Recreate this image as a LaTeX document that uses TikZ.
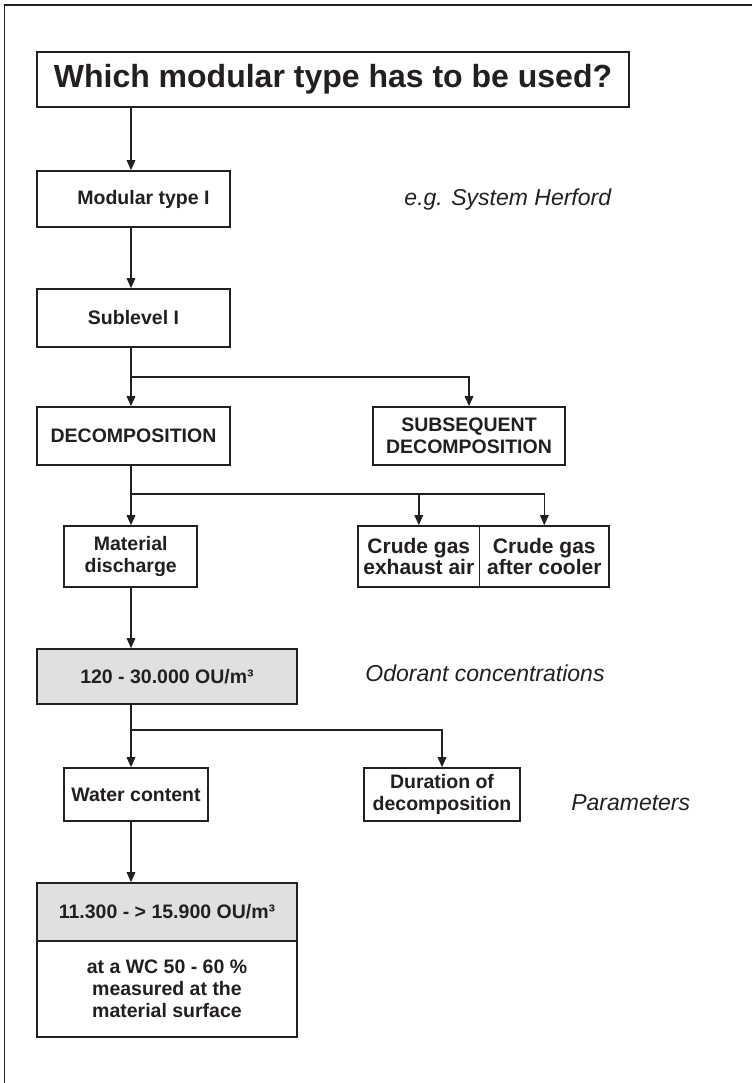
\documentclass[tikz,border=0pt]{standalone}
\usepackage{fontspec}
\setmainfont{Liberation Sans}
\usetikzlibrary{arrows.meta}
\definecolor{ink}{HTML}{231F20}
\definecolor{boxgray}{HTML}{E0E0E0}
\tikzset{
  box/.style={draw=ink, line width=1.6pt, fill=white, inner sep=0pt, align=center,
    font=\bfseries\fontsize{19.5}{22}\selectfont, text=ink},
  graybox/.style={box, fill=boxgray},
  crudebox/.style={box, font=\bfseries\fontsize{21}{21.5}\selectfont},
  note/.style={font=\itshape\fontsize{23}{26}\selectfont, text=ink, inner sep=0pt},
  arr/.style={draw=ink, line width=1.5pt, -{Triangle[length=10pt,width=8.5pt]}},
  conn/.style={draw=ink, line width=1.5pt},
}
\begin{document}
\begin{tikzpicture}[x=1pt,y=-1pt]
\useasboundingbox (0,0) rectangle (752,1083);
\draw[ink, line width=1.5pt] (752,5) -- (4.5,5) -- (4.5,1083);
\coordinate (spine) at (131,0);

% nodes
\node[box, minimum width=592pt, minimum height=55pt,
      font=\bfseries\fontsize{32}{36}\selectfont] (title) at (333,79.5) {Which modular type has to be used?};
\node[box, minimum width=193pt, minimum height=56pt] (mod) at (133.5,199) {\hspace*{20pt}Modular type I};
\node[box, minimum width=193pt, minimum height=58pt] (sub) at (133.5,318) {Sublevel I};
\node[box, minimum width=193pt, minimum height=58pt] (dec) at (133.5,436) {DECOMPOSITION};
\node[box, minimum width=192pt, minimum height=58pt] (subdec) at (469,436) {SUBSEQUENT\\DECOMPOSITION};
\node[box, minimum width=133pt, minimum height=61pt] (mat) at (130.7,556.5) {Material\\discharge};
\node[crudebox, minimum width=121.6pt, minimum height=61pt] (crude1) at (418.8,556.5) {Crude gas\\exhaust air};
\node[crudebox, minimum width=129.4pt, minimum height=61pt] (crude2) at (544.3,556.5) {Crude gas\\after cooler};
\node[graybox, minimum width=260pt, minimum height=55pt] (c120) at (167,676.5) {120 - 30.000 OU/m³};
\node[box, minimum width=144pt, minimum height=53pt] (water) at (136,794.5) {Water content};
\node[box, minimum width=155.5pt, minimum height=53pt] (dur) at (442,794.5) {Duration of\\decomposition};
\node[graybox, minimum width=260pt, minimum height=58pt] (res) at (167,912) {11.300 - > 15.900 OU/m³};
\node[box, minimum width=260pt, minimum height=96pt] (cond) at (167,989) {at a WC 50 - 60 \%\\measured at the\\material surface};

% side notes
\node[note] (eg) at (507.8,200) {e.g. System Herford};
\node[note] (odor) at (485,673) {Odorant concentrations};
\node[note] (param) at (630.7,803) {Parameters};

% connectors
\draw[arr] (title.south -| spine) -- (mod.north -| spine);
\draw[arr] (mod.south -| spine) -- (sub.north -| spine);
\draw[arr] (sub.south -| spine) -- (dec.north -| spine);
\coordinate (j1) at (131,377);
\draw[arr] (j1) -| (subdec.north);
\draw[arr] (dec.south -| spine) -- (mat.north -| spine);
\coordinate (j2) at (131,494);
\draw[arr] (j2) -| (crude2.north);
\draw[arr] (j2 -| crude1.north) -- (crude1.north);
\draw[arr] (mat.south -| spine) -- (c120.north -| spine);
\draw[arr] (c120.south -| spine) -- (water.north -| spine);
\coordinate (j3) at (131,730);
\draw[arr] (j3) -| (dur.north);
\draw[arr] (water.south -| spine) -- (res.north -| spine);
\end{tikzpicture}
\end{document}
